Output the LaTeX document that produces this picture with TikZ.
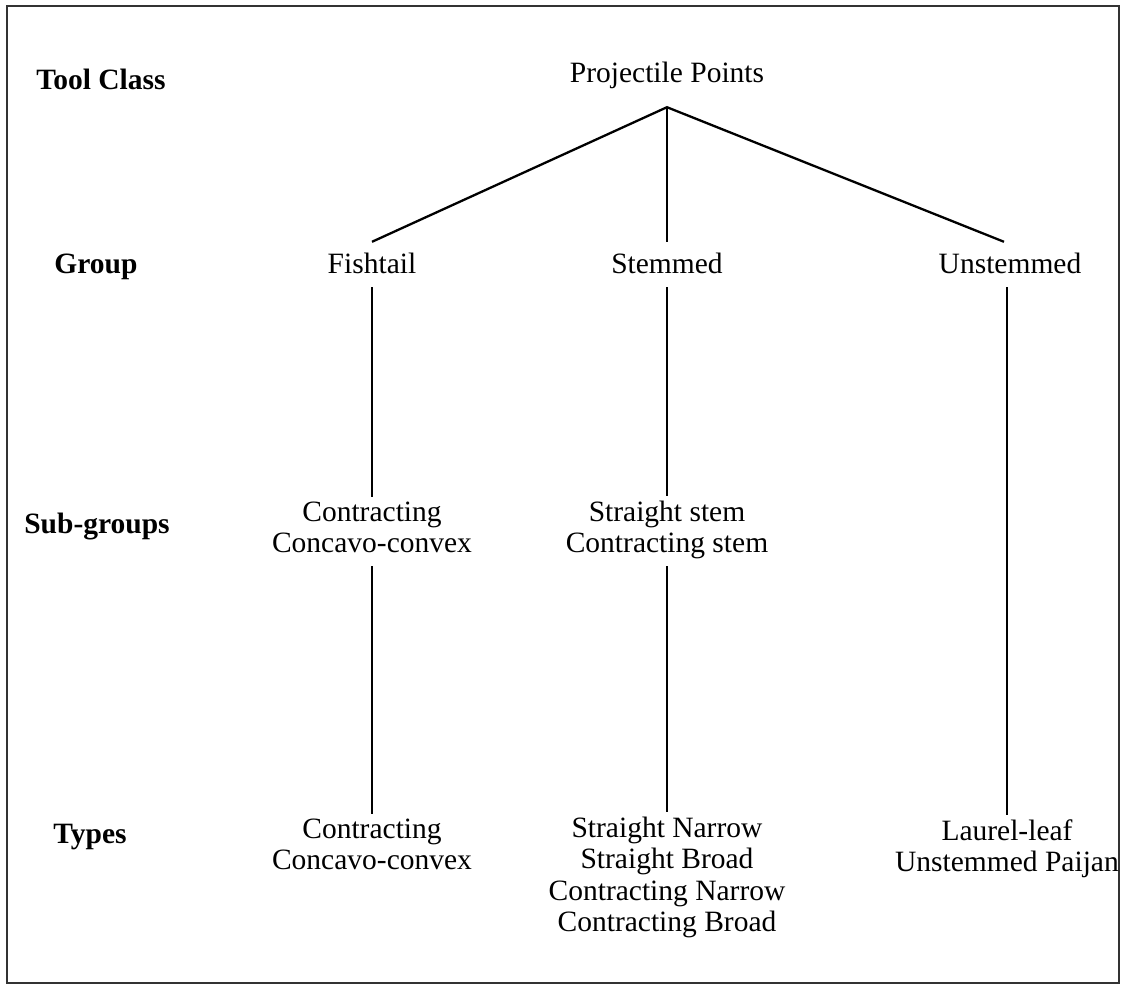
\documentclass[tikz,border=0pt]{standalone}
\usepackage{fontspec}
\setmainfont{Liberation Serif}
\begin{document}
\begin{tikzpicture}[x=1pt,y=-1pt,
  txt/.style={inner sep=0pt, anchor=base, align=center,
    font=\fontsize{29.5}{31.5}\selectfont},
  lvl/.style={txt, font=\fontsize{29.5}{31.5}\selectfont\bfseries},
  grp/.style={txt, text height=20pt, text depth=3pt, inner ysep=11pt},
  % multi-line blocks: struts give every block the same top and bottom margins;
  % the base anchor sits on the last line
  multi/.style={txt, inner ysep=4pt,
    execute at begin node=\strut, execute at end node=\strut},
  edge/.style={line width=2.3pt, line cap=butt}]
\useasboundingbox (0,0) rectangle (1128,985);
\draw[line width=2.8pt, black!80] (7,6) rectangle (1119,983);

% level labels
\node[lvl] (lTool) at (101,89)  {Tool Class};
\node[lvl] (lGroup) at (96,273) {Group};
\node[lvl] (lSub) at (97,533)   {Sub-groups};
\node[lvl] (lTypes) at (90,843) {Types};

% tree
\node[txt, text height=20pt, text depth=6pt, inner ysep=19pt] (pp) at (667,82) {Projectile Points};

\node[grp] (fish)   at (372,273)  {Fishtail};
\node[grp] (stem)   at (667,273)  {Stemmed};
\node[grp] (unstem) at (1010,273) {Unstemmed};

\node[multi] (subF) at (372,552.5) {Contracting\\Concavo-convex};
\node[multi] (subS) at (667,552.5) {Straight stem\\Contracting stem};

\node[multi] (typF) at (372,869.5) {Contracting\\Concavo-convex};
\node[multi] (typS) at (667,931.5) {Straight Narrow\\Straight Broad\\Contracting Narrow\\Contracting Broad};
\node[multi] (typU) at (1007,871.5) {Laurel-leaf\\Unstemmed Paijan};

\draw[edge] (fish.north) -- (pp.south) -- ([xshift=-6pt]unstem.north);
\draw[edge] (pp.south) -- (stem.north);
\draw[edge] (fish.south) -- (subF.north);
\draw[edge] (stem.south) -- (subS.north);
\draw[edge] (subF.south) -- (typF.north);
\draw[edge] (subS.south) -- (typS.north);
\draw[edge] (unstem.south -| typU.north) -- (typU.north);
\end{tikzpicture}
\end{document}
